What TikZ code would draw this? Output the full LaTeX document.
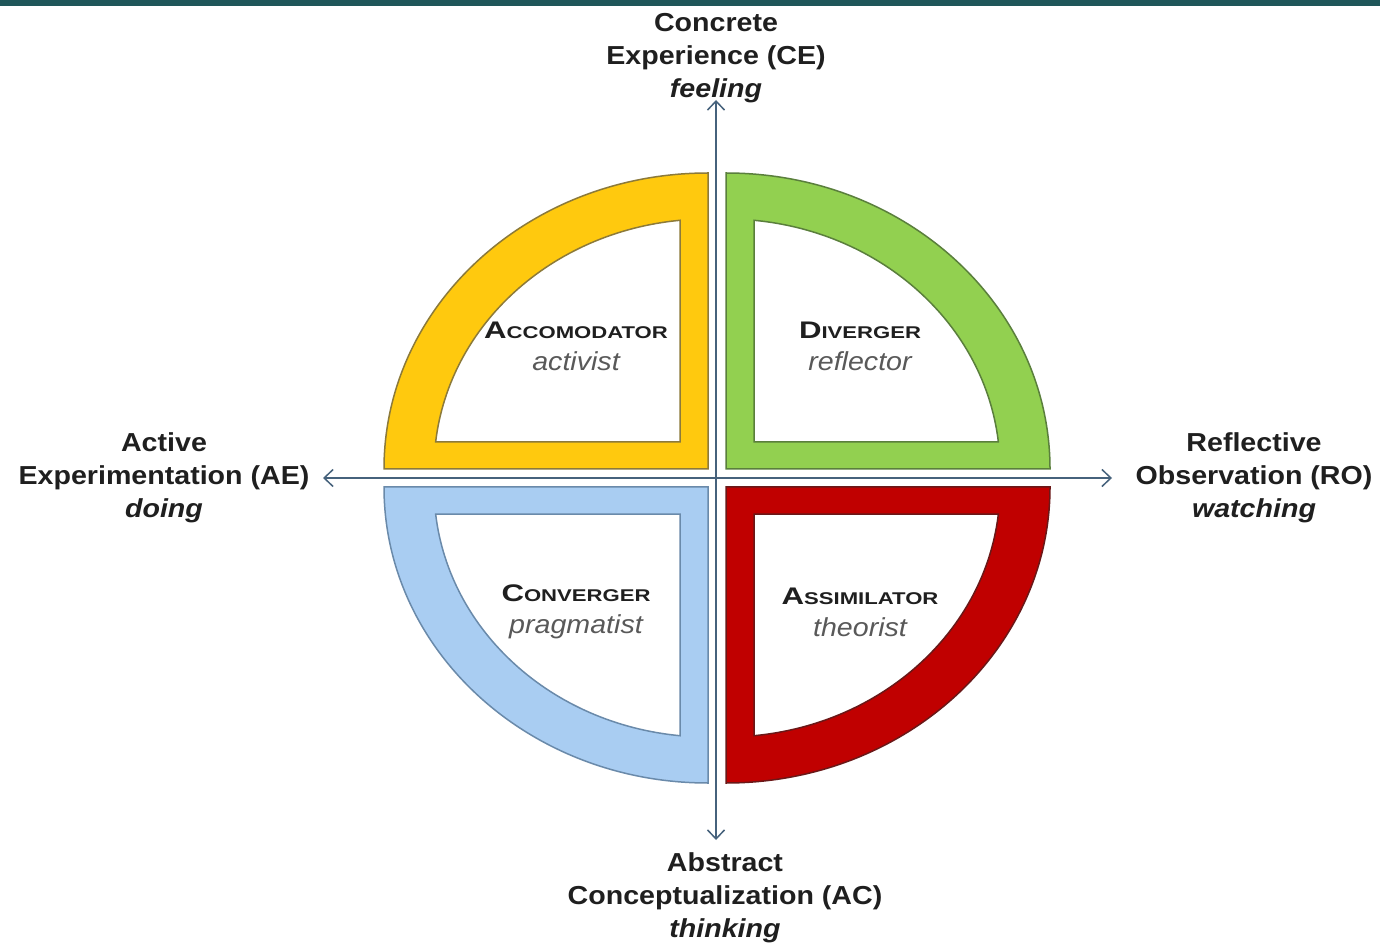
\documentclass[tikz,border=0pt]{standalone}
\usepackage{fontspec}
\setmainfont{Liberation Sans}
\newfontfamily\labfont[FakeStretch=1.1]{Liberation Sans}
\newfontfamily\qfont[FakeStretch=1.3]{Liberation Sans}
\newfontfamily\subfont[FakeStretch=1.1]{Liberation Sans}
\usetikzlibrary{arrows.meta}
\definecolor{qyellow}{HTML}{FFC90E}
\definecolor{qyellowd}{HTML}{8C7A3A}
\definecolor{qgreen}{HTML}{92D050}
\definecolor{qgreend}{HTML}{5A7F3C}
\definecolor{qblue}{HTML}{A9CDF2}
\definecolor{qblued}{HTML}{6A8AAA}
\definecolor{qred}{HTML}{C00000}
\definecolor{qredd}{HTML}{6A1818}
\definecolor{axisc}{HTML}{46627C}
\definecolor{barc}{HTML}{1F5659}
\newcommand\scap[2]{{\fontsize{24}{32}\selectfont #1}{\fontsize{17}{32}\selectfont #2}}
\newcommand\qsub[1]{{\subfont\mdseries\itshape\fontsize{26}{32}\selectfont\color{black!65}#1}}
\tikzset{
  axislab/.style={align=center, text=black!88, font=\labfont\bfseries\fontsize{26}{33}\selectfont},
  quadlab/.style={align=center, text=black!88, font=\qfont\bfseries\fontsize{24}{32}\selectfont},
  band/.style={fill=#1, even odd rule, line width=1.5pt},
  axisline/.style={draw=axisc, line width=1.5pt, {Straight Barb[length=9pt,width=17pt,line width=1.5pt]}-{Straight Barb[length=9pt,width=17pt,line width=1.5pt]}}
}
\begin{document}
\begin{tikzpicture}[x=1pt,y=1pt]
\useasboundingbox (0,0) rectangle (1380,946);
\fill[white] (0,0) rectangle (1380,946);
\fill[barc] (0,940) rectangle (1380,946);
\begin{scope}[shift={(717,468)}]
% quadrants
\path[band=qyellow, draw=qyellowd]
  (-9,9) -- (-9,305) arc[start angle=90,end angle=180,x radius=324,y radius=296] -- cycle
  (-37,36) -- (-37,257.7) arc[start angle=95.87,end angle=173.8,x radius=274,y radius=250] -- cycle;
\path[band=qgreen, draw=qgreend]
  (9,9) -- (9,305) arc[start angle=90,end angle=0,x radius=324,y radius=296] -- cycle
  (37,36) -- (37,257.7) arc[start angle=84.13,end angle=6.2,x radius=274,y radius=250] -- cycle;
\path[band=qblue, draw=qblued]
  (-9,-9) -- (-9,-305) arc[start angle=270,end angle=180,x radius=324,y radius=296] -- cycle
  (-37,-36) -- (-37,-257.7) arc[start angle=264.13,end angle=186.2,x radius=274,y radius=250] -- cycle;
\path[band=qred, draw=qredd]
  (9,-9) -- (9,-305) arc[start angle=270,end angle=360,x radius=324,y radius=296] -- cycle
  (37,-36) -- (37,-257.7) arc[start angle=275.87,end angle=353.8,x radius=274,y radius=250] -- cycle;
% quadrant labels
\node[quadlab] (acc) at (-141,132) {\scap{A}{CCOMODATOR}\\\qsub{activist}};
\node[quadlab] (div) at (143,132) {\scap{D}{IVERGER}\\\qsub{reflector}};
\node[quadlab] (con) at (-141,-134) {\scap{C}{ONVERGER}\\\qsub{pragmatist}};
\node[quadlab] (ass) at (143,-134) {\scap{A}{SSIMILATOR}\\\qsub{theorist}};
% axis labels
\node[axislab] (ce) at (-1,420) {Concrete\\Experience (CE)\\\textit{feeling}};
\node[axislab] (ae) at (-553,0) {Active\\Experimentation (AE)\\\textit{doing}};
\node[axislab] (ro) at (537,0) {Reflective\\Observation (RO)\\\textit{watching}};
\node[axislab] (ac) at (8,-420) {Abstract\\Conceptualization (AC)\\\textit{thinking}};
% axes
\coordinate (vt) at (-1,378);
\coordinate (vb) at (-1,-362);
\coordinate (hl) at (-394,0);
\coordinate (hr) at (395,0);
\draw[axisline] (vb) -- (vt);
\draw[axisline] (hl) -- (hr);
\end{scope}
\end{tikzpicture}
\end{document}
